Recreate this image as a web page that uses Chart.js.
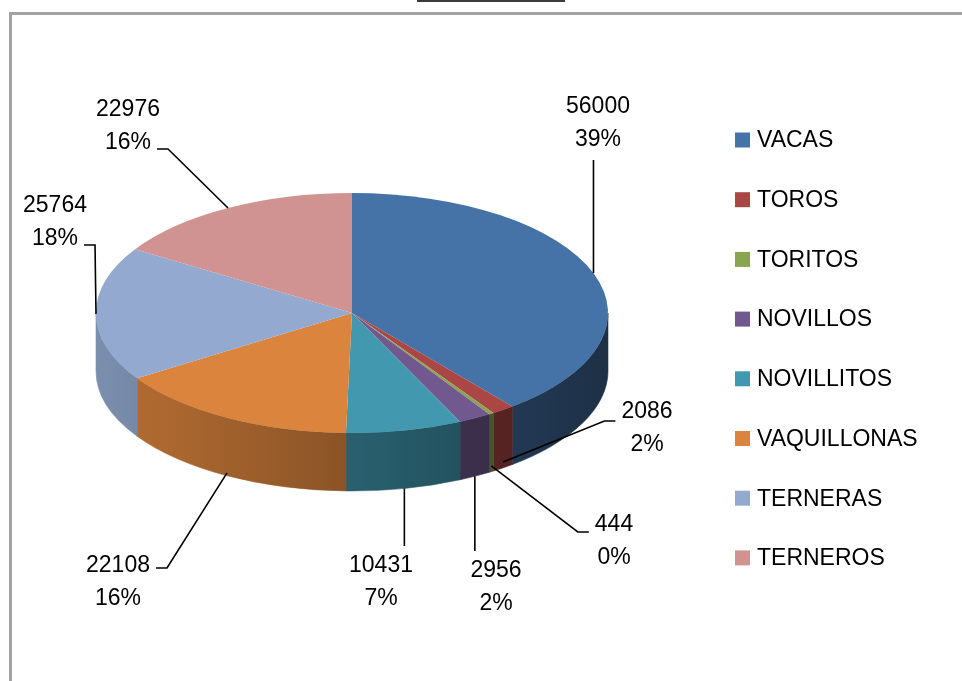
<!DOCTYPE html>
<html>
<head>
<meta charset="utf-8">
<script src="https://cdn.jsdelivr.net/npm/chart.js@4.4.1/dist/chart.umd.min.js"></script>
<style>
  html, body { margin: 0; padding: 0; background: #fff; }
  body { width: 962px; height: 681px; position: relative; overflow: hidden; }
  #frame { position: absolute; left: 9px; top: 12px; width: 990px; height: 720px; border: 3px solid #a3a3a3; box-sizing: border-box; }
  #titleLine { position: absolute; left: 417px; top: 0; width: 148px; height: 2px; background: #3a3a3a; }
  #chart { position: absolute; left: 0; top: 0; }
</style>
</head>
<body>
<div id="titleLine"></div>
<div id="frame"></div>
<canvas id="chart" width="962" height="681"></canvas>
<script>
/*************************************************
 * 1. Data
 *************************************************/
const categories = ["VACAS", "TOROS", "TORITOS", "NOVILLOS", "NOVILLITOS", "VAQUILLONAS", "TERNERAS", "TERNEROS"];
const heads = [56000, 2086, 444, 2956, 10431, 22108, 25764, 22976];
const shares = ["39%", "2%", "0%", "2%", "7%", "16%", "18%", "16%"];
const colors = ["#4572a7", "#aa4643", "#89a54e", "#71588f", "#4198af", "#db843d", "#93a9cf", "#d19392"];

/*************************************************
 * 2. Layout
 *************************************************/
const TILT = 120 / 256;     // vertical squash of the pie
const DEPTH = 58;           // height of the pie wall
const LINE = 33;            // gap between the two label lines
const FONT = '23px "Liberation Sans", Arial, sans-serif';

// where each data label sits and how its leader line leaves it
const labelSpots = [
    { x: 598, y: 107, side: "below", drop: 0 },
    { x: 647, y: 412, side: "left", ly: 421, drop: 0.9 },
    { x: 614, y: 525, side: "left", ly: 532, drop: 0.9 },
    { x: 496, y: 571, side: "above", drop: 1 },
    { x: 381, y: 566, side: "above", drop: 1 },
    { x: 118, y: 566, side: "right", ly: 568, drop: 0.95 },
    { x: 55, y: 206, side: "right", ly: 245, drop: 0 },
    { x: 128, y: 110, side: "right", ly: 149, drop: 0 }
];

const legendX = 735, legendY = 140, legendStep = 59.7, swatch = 15;

function shade(hex, f) {
    const n = parseInt(hex.slice(1), 16);
    const r = Math.round(((n >> 16) & 255) * f);
    const g = Math.round(((n >> 8) & 255) * f);
    const b = Math.round((n & 255) * f);
    return `rgb(${r},${g},${b})`;
}

/*************************************************
 * 3. 3D pie plugin (walls + squash + labels + legend)
 *************************************************/
const pie3d = {
    id: "pie3d",
    beforeDatasetsDraw(chart) {
        const ctx = chart.ctx;
        const arcs = chart.getDatasetMeta(0).data;
        const { x: cx, y: cy, outerRadius: r } = arcs[0];
        const ry = r * TILT;

        arcs.forEach((arc, i) => {
            const a1 = Math.max(arc.startAngle, 0);
            const a2 = Math.min(arc.endAngle, Math.PI);
            if (a2 <= a1) return;
            const g = ctx.createLinearGradient(cx - r, 0, cx + r, 0);
            g.addColorStop(0, shade(colors[i], 0.84));
            g.addColorStop(1, shade(colors[i], 0.42));
            ctx.beginPath();
            ctx.ellipse(cx, cy, r, ry, 0, a1, a2);
            ctx.lineTo(cx + r * Math.cos(a2), cy + ry * Math.sin(a2) + DEPTH);
            ctx.ellipse(cx, cy + DEPTH, r, ry, 0, a2, a1, true);
            ctx.closePath();
            ctx.fillStyle = g;
            ctx.fill();
            ctx.strokeStyle = g;
            ctx.lineWidth = 0.6;
            ctx.stroke();
        });

        ctx.save();
        ctx.translate(cx, cy);
        ctx.scale(1, TILT);
        ctx.translate(-cx, -cy);
    },
    afterDatasetsDraw(chart) {
        chart.ctx.restore();
    },
    afterDraw(chart) {
        const ctx = chart.ctx;
        const arcs = chart.getDatasetMeta(0).data;
        const { x: cx, y: cy, outerRadius: r } = arcs[0];
        const ry = r * TILT;

        ctx.save();
        ctx.font = FONT;
        ctx.fillStyle = "#000";
        ctx.strokeStyle = "#000";
        ctx.lineWidth = 1.6;
        ctx.textBaseline = "middle";

        // data labels + leader lines
        arcs.forEach((arc, i) => {
            const s = labelSpots[i];
            const mid = (arc.startAngle + arc.endAngle) / 2;
            const front = Math.sin(mid) > 0;
            const ax = cx + r * Math.cos(mid);
            const ay = cy + ry * Math.sin(mid) + (front ? DEPTH * s.drop : 0);
            const lines = [String(heads[i]), shares[i]];

            ctx.textAlign = "center";
            ctx.fillText(lines[0], s.x, s.y);
            ctx.fillText(lines[1], s.x, s.y + LINE);

            ctx.beginPath();
            if (s.side === "below") {
                ctx.moveTo(ax, s.y + LINE + 20);
                ctx.lineTo(ax, ay);
            } else if (s.side === "above") {
                ctx.moveTo(ax, s.y - 20);
                ctx.lineTo(ax, ay);
            } else {
                const row = Math.abs(s.ly - s.y) < Math.abs(s.ly - s.y - LINE) ? 0 : 1;
                const w = ctx.measureText(lines[row]).width;
                const dir = s.side === "left" ? -1 : 1;
                const sx = s.x + dir * (w / 2 + 6);
                ctx.moveTo(sx, s.ly);
                ctx.lineTo(sx + dir * 11, s.ly);
                ctx.lineTo(ax, ay);
            }
            ctx.stroke();
        });

        // legend
        ctx.textAlign = "left";
        categories.forEach((name, i) => {
            const y = legendY + i * legendStep;
            ctx.fillStyle = colors[i];
            ctx.fillRect(legendX, y - swatch / 2, swatch, swatch);
            ctx.fillStyle = "#000";
            ctx.fillText(name, legendX + 22, y + 1);
        });
        ctx.restore();
    }
};

/*************************************************
 * 4. Chart
 *************************************************/
new Chart(document.getElementById("chart"), {
    type: "pie",
    data: {
        labels: categories,
        datasets: [{
            data: heads,
            backgroundColor: colors,
            borderWidth: 0,
            hoverOffset: 0,
            offset: 0,
            clip: false
        }]
    },
    options: {
        responsive: false,
        animation: false,
        devicePixelRatio: 1,
        layout: { padding: { left: 96, right: 354, top: 57, bottom: 112 } },
        plugins: {
            legend: { display: false },
            tooltip: { enabled: false }
        }
    },
    plugins: [pie3d]
});
</script>
</body>
</html>
